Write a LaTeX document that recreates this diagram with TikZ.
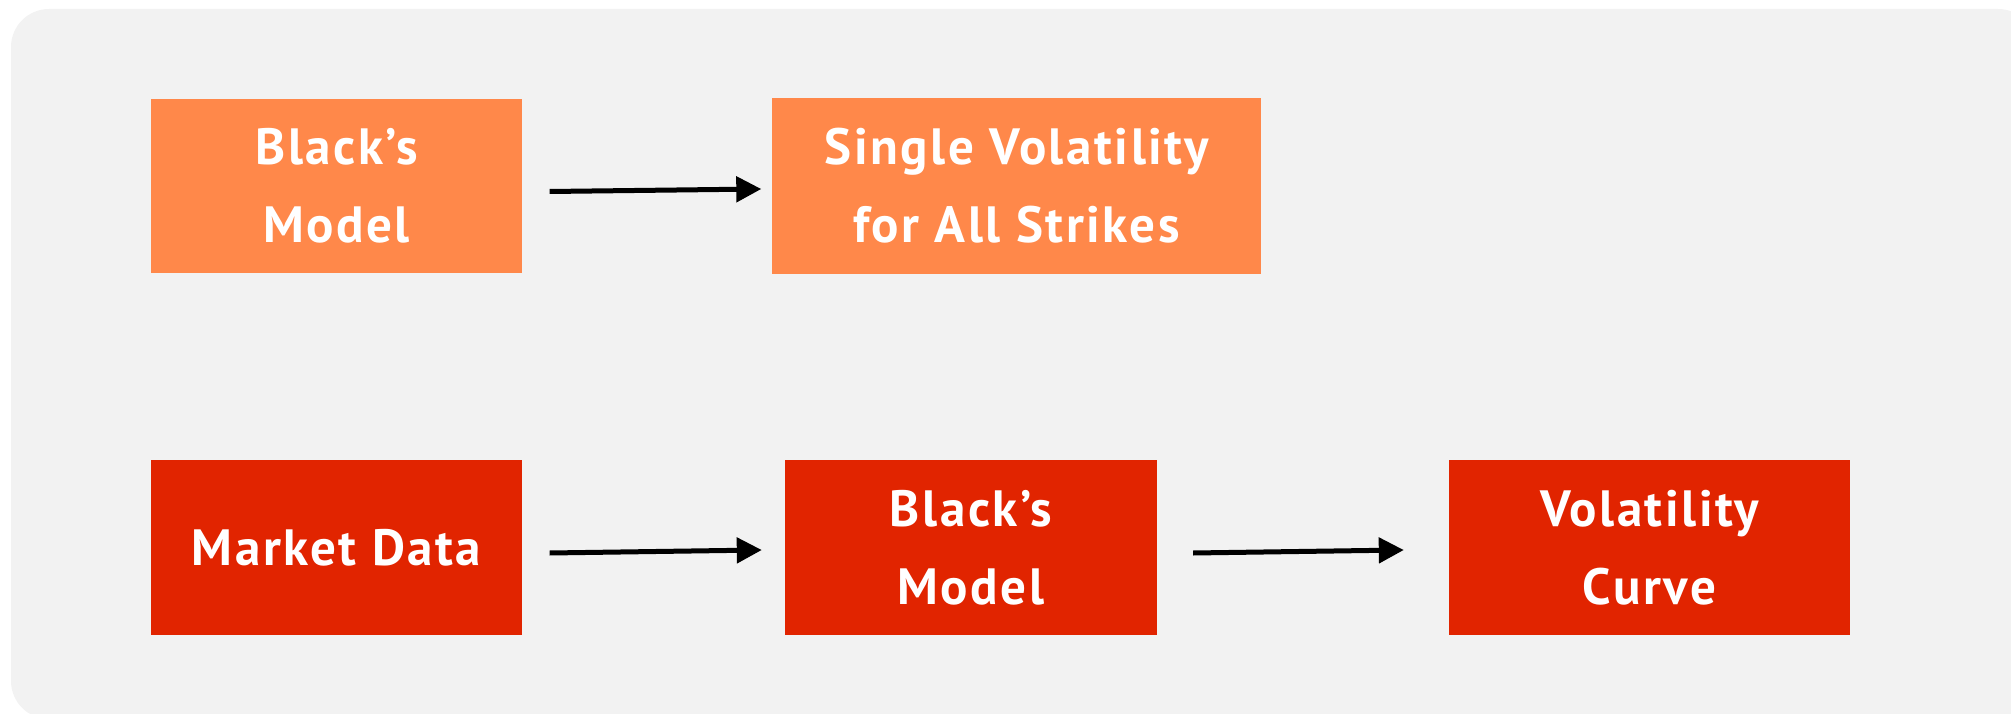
\documentclass[tikz,border=0pt]{standalone}
\usepackage{fontspec}
\setmainfont{PT Sans}
\newfontfamily\boxfont{PT Sans}[LetterSpace=5]
\usetikzlibrary{arrows.meta}
\definecolor{panelgray}{HTML}{F2F2F2}
\definecolor{boxorange}{HTML}{FF884A}
\definecolor{boxred}{HTML}{E12400}
\tikzset{
  stagebox/.style={inner sep=0pt, align=center, text=white,
    font=\boxfont\fontsize{51}{78}\selectfont\bfseries},
  orangebox/.style={stagebox, fill=boxorange},
  redbox/.style={stagebox, fill=boxred},
  flow/.style={line width=5pt, -{Triangle[length=25pt,width=25pt]}}
}
\begin{document}
\begin{tikzpicture}[x=1pt, y=-1pt]
  \useasboundingbox (0,0) rectangle (2011,714);
  \clip (0,0) rectangle (2011,714);
  % rounded panel behind the flow
  \fill[panelgray, rounded corners=38pt] (11,9) rectangle (2036,719);

  % upper row: theoretical model
  \node[orangebox, minimum width=371pt, minimum height=174pt] (bm1) at (336.5,186) {Black’s\\Model};
  \node[orangebox, minimum width=489pt, minimum height=176pt] (sv) at (1016.5,186) {Single Volatility\\for All Strikes};

  % lower row: market practice
  \node[redbox, minimum width=371pt, minimum height=175pt] (md) at (336.5,547.5) {Market Data};
  \node[redbox, minimum width=372pt, minimum height=175pt] (bm2) at (971,547.5) {Black’s\\Model};
  \node[redbox, minimum width=401pt, minimum height=175pt] (vc) at (1649.5,547.5) {Volatility\\Curve};

  % connectors
  \draw[flow] ([shift={(27.5,5.5)}]bm1.east) -- ([shift={(-10.5,3)}]sv.west);
  \draw[flow] ([shift={(27.5,5.5)}]md.east) -- ([shift={(-23,2.5)}]bm2.west);
  \draw[flow] ([shift={(36,5.5)}]bm2.east) -- ([shift={(-45,2.5)}]vc.west);
\end{tikzpicture}
\end{document}
